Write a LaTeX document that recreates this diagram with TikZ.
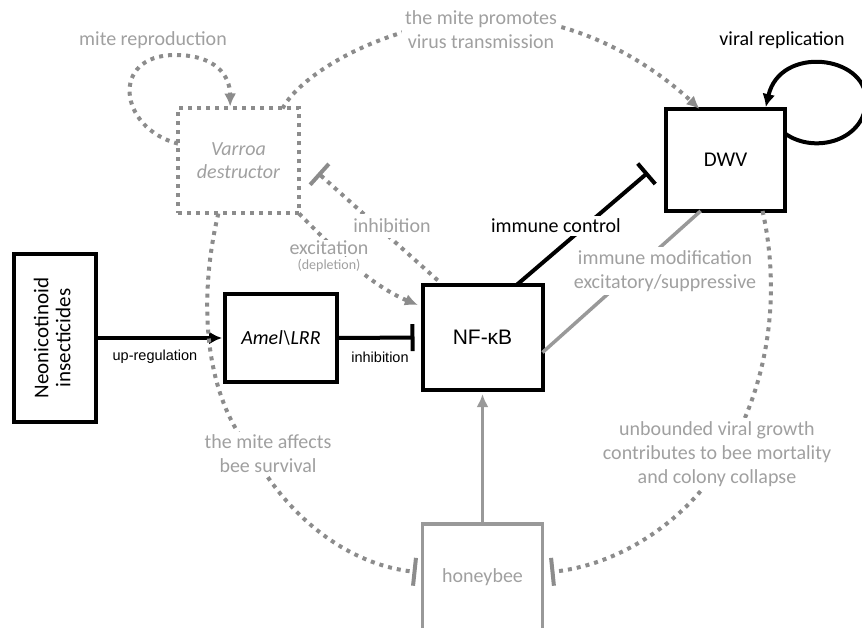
\documentclass[tikz,border=0pt]{standalone}
\usepackage{fontspec}
\setmainfont{Carlito}
\newfontfamily\arialfam{Liberation Sans}
\usepackage{graphicx}
\usepackage{tikz}
\usetikzlibrary{arrows.meta,positioning,calc}
\definecolor{dotgray}{HTML}{8C8C8C}
\definecolor{txtgray}{HTML}{A0A0A0}
\definecolor{linegray}{HTML}{999999}

\begin{document}
\begin{tikzpicture}[x=1pt, y=-1pt,
  blk/.style={
    draw, line width=4pt, outer sep=0pt, inner sep=0pt,
    align=center, font=\fontsize{20}{22}\selectfont
  },
  mitebox/.style={blk, dotgray, line width=4pt, dash pattern=on 4pt off 5pt, text=txtgray},
  beebox/.style={blk, linegray, line width=3.5pt, text=txtgray},
  lbl/.style={font=\fontsize{20}{24}\selectfont, text=txtgray, fill=white, align=center, inner sep=3pt},
  blab/.style={font=\fontsize{20}{24}\selectfont, fill=white, inner sep=3pt},
  slab/.style={font=\arialfam\fontsize{14.5}{16}\selectfont, inner sep=1pt},
  barr/.style={-{Latex[length=13pt,width=13pt]}, line width=4pt},
  binh/.style={-{Bar[width=27pt]}, line width=4pt},
  dotln/.style={dotgray, line width=4pt, dash pattern=on 4pt off 5pt},
  darr/.style={dotln, -{Latex[length=13pt,width=12pt]}},
  dinh/.style={dotln, -{Bar[width=28pt]}},
  garr/.style={linegray, line width=3.5pt, -{Latex[length=13pt,width=12pt]}}
]
  \useasboundingbox (0,0) rectangle (862,628);

  % boxes
  \node[blk, minimum width=82pt, minimum height=168pt, font=\fontsize{21}{22}\selectfont] (neo) at (55,338)
    {\rotatebox{90}{\begin{tabular}{@{}c@{}}Neonicotinoid\\insecticides\end{tabular}}};
  \node[blk, minimum width=112pt, minimum height=88pt] (amel) at (281,338) {\itshape Amel\textbackslash LRR};
  \node[blk, minimum width=120pt, minimum height=105pt,
        font=\arialfam\fontsize{21}{24}\selectfont] (nfkb) at (482.5,337.5) {NF-κB};
  \node[blk, minimum width=119pt, minimum height=102pt,
        font=\fontsize{21}{24}\selectfont] (dwv) at (725.5,160) {DWV};
  \node[mitebox, minimum width=121pt, minimum height=105pt,
        font=\itshape\fontsize{20}{23}\selectfont] (varroa) at (238.5,161) {Varroa\\destructor};
  \node[beebox, minimum width=120pt, minimum height=106pt] (bee) at (482.5,577) {honeybee};

  % black pathway
  \draw[barr, shorten >=3pt] (neo.east) -- (amel.west);
  \draw[binh, shorten >=8pt] (amel.east) -- (nfkb.west);
  \draw[binh] (nfkb.57) -- ([shift={(-18,12.5)}]dwv.west);
  \draw[barr, shorten >=2pt] (dwv.24) .. controls (815,155) and (866,140) .. (866,100)
    .. controls (866,55) and (780,45) .. (dwv.52);

  % grey links
  \draw[linegray, line width=3.5pt] (nfkb.-14) -- (dwv.-116);
  \draw[garr, shorten >=4pt] (bee.north) -- (nfkb.south);
  \draw[darr, shorten >=2pt] (varroa.164) .. controls (118,128) and (110,55) .. (175,55)
    .. controls (215,55) and (230,75) .. (varroa.99);
  \draw[darr] (varroa.50) .. controls (300,75) and (380,25) .. (480,18)
    .. controls (580,12) and (660,72) .. (dwv.117);
  \draw[dinh] (dwv.-54) .. controls (778,280) and (775,370) .. (728,452)
    .. controls (690,520) and (620,565) .. ([shift={(8,-5)}]bee.east);
  \draw[dinh] (varroa.-111) .. controls (200,290) and (200,390) .. (252,452)
    .. controls (290,520) and (350,565) .. ([shift={(-6,-5)}]bee.west);
  \draw[dinh, shorten <=7pt] (nfkb.127) -- ([shift={(19,12)}]varroa.east);
  \draw[darr, shorten >=5pt] (varroa.south east) .. controls (335,250) and (370,285) .. (nfkb.153);

  % labels
  \node[lbl] (mrepro) at (153,40) {mite reproduction};
  \node[lbl] (promote) at (481,30) {the mite promotes\\virus transmission};
  \node[lbl, inner sep=5pt] (inhib) at (392,226) {inhibition};
  \node[lbl, inner sep=1pt] (excit) at (329,248) {excitation};
  \node[lbl, font=\fontsize{14}{16}\selectfont, inner sep=2pt, below=1pt of excit] (deplet) {(depletion)};
  \node[lbl] (immmod) at (665,271) {immune modification\\excitatory/suppressive};
  \node[lbl] (affects) at (268,454) {the mite affects\\bee survival};
  \node[lbl] (unbound) at (717,454) {unbounded viral growth\\contributes to bee mortality\\and colony collapse};
  \node[blab] (immctl) at (556,226) {immune control};
  \node[blab] (vrepl) at (782,40) {viral replication};
  \node[slab] (upreg) at (155,357) {up-regulation};
  \node[slab] (inhb) at (380,357) {inhibition};
\end{tikzpicture}
\end{document}
